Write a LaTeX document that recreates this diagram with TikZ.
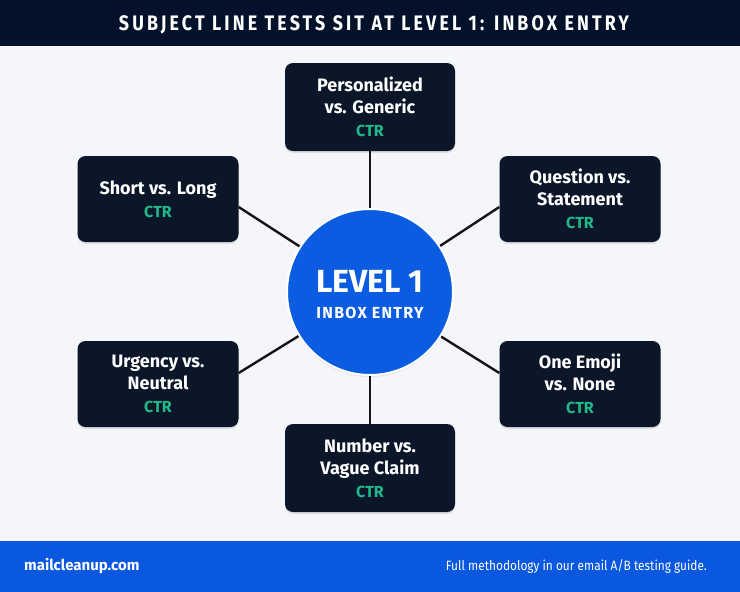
\documentclass[tikz,border=0pt]{standalone}
\usepackage{fontspec}
\setmainfont{Fira Sans}
\newfontfamily\titlefont[FakeStretch=0.85,LetterSpace=15]{Fira Sans}
\newfontfamily\condfont[FakeStretch=0.88]{Fira Sans}
\newfontfamily\spacedfont[LetterSpace=8]{Fira Sans}
\usetikzlibrary{shadows}
\definecolor{navy}{HTML}{03112A}
\definecolor{boxc}{HTML}{0B1628}
\definecolor{bgc}{HTML}{F4F6F9}
\definecolor{footc}{HTML}{0A57E0}
\definecolor{ctrc}{HTML}{22B98A}
\definecolor{circc}{HTML}{0B5CE0}
\begin{document}
\begin{tikzpicture}[x=1pt,y=-1pt,
  testbox/.style={fill=boxc, rounded corners=8pt, minimum width=161pt, minimum height=86pt,
    align=center, text=white, inner sep=0pt,
    font=\bfseries\fontsize{18}{22}\selectfont,
    drop shadow={opacity=0.18, shadow xshift=0pt, shadow yshift=-2pt}},
  widebox/.style={testbox, minimum width=170pt, minimum height=88pt},
  link/.style={line width=2.4pt, draw=black!92}]
\fill[bgc] (0,0) rectangle (740,592);
\useasboundingbox (0,0) rectangle (740,592);
\fill[navy] (0,0) rectangle (740,46);
\node[text=white, font=\titlefont\bfseries\fontsize{21}{24}\selectfont, anchor=base] (title) at (374,30) {SUBJECT LINE TESTS SIT AT LEVEL 1: INBOX ENTRY};
\fill[footc] (0,541) rectangle (740,592);
\node[text=white, font=\bfseries\fontsize{15}{18}\selectfont, anchor=base west, inner sep=0pt] (site) at (24,570) {mailcleanup.com};
\node[text=white, font=\condfont\fontsize{13.5}{16}\selectfont, anchor=base east, inner sep=0pt] (note) at (707,570) {Full methodology in our email A/B testing guide.};

\newcommand{\ctrline}{\\[1pt]{\color{ctrc}\fontsize{16}{18}\selectfont CTR}}
\node[widebox] (pg) at (370,107) {Personalized\\vs. Generic\ctrline};
\node[testbox] (sl) at (158,199) {Short vs. Long\ctrline};
\node[testbox] (qs) at (580,199) {Question vs.\\Statement\ctrline};
\node[testbox] (un) at (158,384) {Urgency vs.\\Neutral\ctrline};
\node[testbox] (oe) at (580,384) {One Emoji\\vs. None\ctrline};
\node[widebox] (nv) at (370,468) {Number vs.\\Vague Claim\ctrline};

\node[circle, fill=circc, draw=white, line width=2pt, minimum size=166pt, inner sep=0pt,
  drop shadow={opacity=0.15, shadow xshift=0pt, shadow yshift=-2pt}] (c) at (370,292) {};
\node[text=white, font=\bfseries\fontsize{32}{34}\selectfont, anchor=base, inner sep=0pt] (lvl) at (370,292) {LEVEL 1};
\node[text=white, font=\spacedfont\bfseries\fontsize{16}{19}\selectfont, anchor=base, inner sep=0pt] (inbox) at (370,318) {INBOX ENTRY};

\draw[link] (pg.south) -- (c);
\draw[link] (nv.north) -- (c);
\draw[link] ([yshift=-8pt]sl.east) -- (c);
\draw[link] ([yshift=-8pt]qs.west) -- (c);
\draw[link] ([yshift=11pt]un.east) -- (c);
\draw[link] ([yshift=11pt]oe.west) -- (c);
\end{tikzpicture}
\end{document}
